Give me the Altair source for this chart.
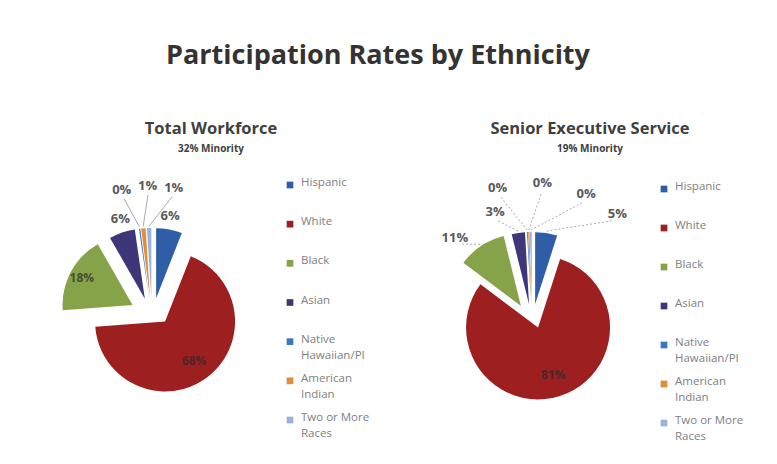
import textwrap
import altair as alt
import pandas as pd

# ---------------- data ----------------
categories = ["Hispanic", "White", "Black", "Asian",
              "Native Hawaiian/PI", "American Indian", "Two or More Races"]
workforce_pct = [6, 68, 18, 6, 0.3, 1, 1]
ses_pct = [5, 81, 11, 3, 0.2, 0.3, 0.4]
panel_titles = ["Total Workforce", "Senior Executive Service"]
panel_subtitles = ["32% Minority", "19% Minority"]
main_title = "Participation Rates by Ethnicity"

# ---------------- style ----------------
colors = ["#2f5ea6", "#9e1f1f", "#87a34a", "#3d3778", "#3a78bf", "#e38b36", "#9ab0de"]
FONT = "Open Sans"
LABEL_GRAY = "#595959"
LEGEND_GRAY = "#808080"
W, H = 370, 285

color_enc = alt.Color("category:N", scale=alt.Scale(domain=categories, range=colors), legend=None)


def frame(values):
    return pd.DataFrame({
        "category": categories,
        "value": values,
        "order": list(range(len(categories))),
        "legend_text": ["\n".join(textwrap.wrap(c, 11)) for c in categories],
    })


def panel(values, title, subtitle, cx, cy, R, ex, ey, tiny_a0, tiny_step, tiny_r,
          out_r, out_r_pos, push_pos, push_neg, leg_x, leg_y0, leg_y1, dx, leader_all, dash):
    df = frame(values)
    base = (
        alt.Chart(df)
        .transform_window(cum="sum(value)", frame=[None, 0], sort=[alt.SortField("order")])
        .transform_joinaggregate(total="sum(value)")
        .transform_calculate(t1="2*PI*datum.cum/datum.total")
        .transform_calculate(t0="datum.t1 - 2*PI*datum.value/datum.total")
        .transform_calculate(mid="(datum.t0 + datum.t1)/2")
        .transform_calculate(mids="datum.mid > PI ? datum.mid - 2*PI : datum.mid")
        .transform_calculate(sx=f"{cx} + {ex}*sin(datum.mid)")
        .transform_calculate(sy=f"{cy} - {ey}*cos(datum.mid)")
        .transform_calculate(tiny="datum.value < 2 ? 1 : 0")
        .transform_calculate(inside="datum.value >= 15 ? 1 : 0")
        .transform_window(k="row_number()", groupby=["tiny"], sort=[alt.SortField("order")])
        .transform_calculate(
            la=f"datum.tiny == 1 ? ({tiny_a0} + (datum.k-1)*{tiny_step})*PI/180 : "
               f"datum.mids + (datum.mids >= 0 ? {push_pos} : -{push_neg})*PI/180")
        .transform_calculate(
            lr=f"datum.tiny == 1 ? {tiny_r} : (datum.mids >= 0 ? {out_r_pos} : {out_r})")
        .transform_calculate(irf="datum.value < 30 ? 0.82 : 0.7")
        .transform_calculate(
            lx=f"datum.inside == 1 ? datum.sx + datum.irf*{R}*sin(datum.mid) : {cx} + datum.lr*sin(datum.la)")
        .transform_calculate(
            ly=f"datum.inside == 1 ? datum.sy - datum.irf*{R}*cos(datum.mid) : {cy} - datum.lr*cos(datum.la)")
        .transform_calculate(lab="format(datum.value, '.0f') + '%'")
        .transform_calculate(ax=f"datum.sx + {R + 2}*sin(datum.mid)")
        .transform_calculate(ay=f"datum.sy - {R + 2}*cos(datum.mid)")
        .transform_calculate(bx=f"{cx} + (datum.lr - 9)*sin(datum.la)")
        .transform_calculate(by=f"{cy} - (datum.lr - 9)*cos(datum.la)")
    )

    arcs = base.mark_arc(radius=R).encode(
        x=alt.X("sx:Q", scale=None),
        y=alt.Y("sy:Q", scale=None),
        theta=alt.Theta("t0:Q", scale=None),
        theta2=alt.Theta2("t1:Q"),
        color=color_enc,
    )

    inside_txt = base.transform_filter("datum.inside == 1").mark_text(
        font=FONT, fontSize=12, fontWeight="bold", color="#2a2a2a", opacity=0.7
    ).encode(x=alt.X("lx:Q", scale=None), y=alt.Y("ly:Q", scale=None), text="lab:N")

    outside_txt = base.transform_filter("datum.inside == 0").mark_text(
        font=FONT, fontSize=13, fontWeight="bold", color=LABEL_GRAY
    ).encode(x=alt.X("lx:Q", scale=None), y=alt.Y("ly:Q", scale=None), text="lab:N")

    leader_filter = "datum.inside == 0" if leader_all else "datum.tiny == 1"
    rule_kw = dict(color="#aaaaaa", strokeWidth=1)
    if dash:
        rule_kw["strokeDash"] = [2, 2]
    leaders = base.transform_filter(leader_filter).mark_rule(**rule_kw).encode(
        x=alt.X("ax:Q", scale=None), y=alt.Y("ay:Q", scale=None),
        x2=alt.X2("bx:Q"), y2=alt.Y2("by:Q"),
    )

    leg_y = alt.Y("category:N", sort=categories, axis=None,
                  scale=alt.Scale(type="point", domain=categories, range=[leg_y0, leg_y1], padding=0))
    squares = alt.Chart(df).mark_square(size=45, opacity=1).encode(
        x=alt.value(leg_x), y=leg_y, color=color_enc)
    leg_txt = alt.Chart(df).mark_text(
        align="left", baseline="top", dy=-8, lineBreak="\n", lineHeight=16,
        font=FONT, fontSize=11.5, color=LEGEND_GRAY
    ).encode(x=alt.value(leg_x + 11), y=leg_y, text="legend_text:N")

    return alt.layer(arcs, inside_txt, leaders, outside_txt, squares, leg_txt).resolve_scale(
        y="independent"
    ).properties(
        width=W, height=H,
        title=alt.Title(title, subtitle=subtitle, font=FONT, fontSize=16.5, fontWeight="bold",
                        color="#404040", subtitleFont=FONT, subtitleFontSize=10,
                        subtitleFontWeight="bold", subtitleColor="#404040",
                        subtitlePadding=7, anchor="middle", dx=dx, offset=5),
    )


left = panel(workforce_pct, panel_titles[0], panel_subtitles[0],
             cx=144, cy=152, R=70, ex=22, ey=13,
             tiny_a0=-14, tiny_step=12, tiny_r=125, out_r=97, out_r_pos=97, push_pos=0, push_neg=0,
             leg_x=282, leg_y0=26, leg_y1=261, dx=18, leader_all=False, dash=False)
right = panel(ses_pct, panel_titles[1], panel_subtitles[1],
              cx=154, cy=157, R=72, ex=20, ey=12,
              tiny_a0=-15, tiny_step=19.5, tiny_r=133, out_r=110, out_r_pos=133, push_pos=31,
              push_neg=11, leg_x=286, leg_y0=30, leg_y1=264, dx=27, leader_all=True, dash=True)

chart = alt.hconcat(left, right, spacing=0).properties(
    title=alt.Title(main_title, font=FONT, fontSize=27, fontWeight="bold", color="#333333",
                    anchor="middle", offset=51),
    padding={"top": 33, "left": 0, "right": 0, "bottom": 0},
    background="white",
).configure_view(stroke=None)

chart.save("out.html", embed_options={"renderer": "svg", "actions": False})
